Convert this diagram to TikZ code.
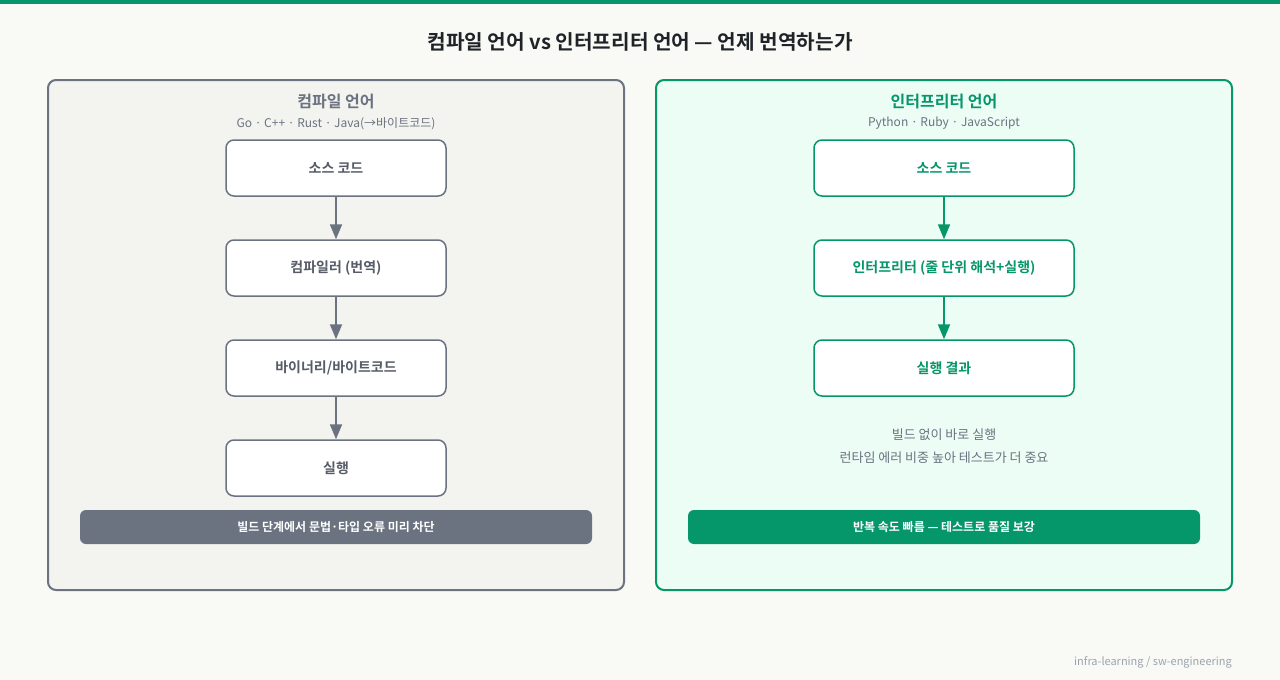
\documentclass[tikz,border=0pt]{standalone}
\usepackage{fontspec}
\setmainfont{Noto Sans CJK KR}[BoldFont={* Bold}]
\usetikzlibrary{arrows.meta}
\definecolor{bg}{HTML}{F9FAF6}
\definecolor{grn}{HTML}{059669}
\definecolor{gry}{HTML}{6B7280}
\definecolor{lpanel}{HTML}{F3F4EF}
\definecolor{rpanel}{HTML}{ECFDF5}
\definecolor{ttl}{HTML}{1F2328}
\definecolor{foot}{HTML}{9CA3AF}
\tikzset{
  panel/.style={draw, line width=2pt, rounded corners=8pt},
  stepbox/.style={draw, fill=white, line width=1.5pt, rounded corners=8pt, minimum width=220pt, minimum height=56pt, font=\fontsize{14}{16}\selectfont\bfseries},
  bar/.style={rounded corners=6pt, minimum width=512pt, minimum height=34pt, text=white, font=\fontsize{12}{14}\selectfont\bfseries},
  arr/.style={line width=2pt, -{Triangle[length=15pt,width=12pt]}},
}
\begin{document}
\begin{tikzpicture}[x=1pt,y=-1pt]
\useasboundingbox (0,0) rectangle (1280,680);
\fill[bg] (0,0) rectangle (1280,680);
\fill[grn] (0,0) rectangle (1280,4);
\node[text=ttl, font=\fontsize{20.2}{24}\selectfont\bfseries] (title) at (640,42) {컴파일 언어 vs 인터프리터 언어 — 언제 번역하는가};

% left panel
\node[panel, draw=gry, fill=lpanel, minimum width=576pt, minimum height=510pt, inner sep=0pt] (lp) at (336,335) {};
\node[text=gry, font=\fontsize{16}{18}\selectfont\bfseries] (lt) at (336,102) {컴파일 언어};
\node[text=gry, font=\fontsize{12}{14}\selectfont] (ls) at (336,123.5) {Go · C++ · Rust · Java(→바이트코드)};
\node[stepbox, draw=gry, text=gry!80!black] (l1) at (336,168) {소스 코드};
\node[stepbox, draw=gry, text=gry!80!black] (l2) at (336,268) {컴파일러 (번역)};
\node[stepbox, draw=gry, text=gry!80!black] (l3) at (336,368) {바이너리/바이트코드};
\node[stepbox, draw=gry, text=gry!80!black] (l4) at (336,468) {실행};
\draw[arr, gry] (l1) -- (l2);
\draw[arr, gry] (l2) -- (l3);
\draw[arr, gry] (l3) -- (l4);
\node[bar, fill=gry] (lb) at (336,527) {빌드 단계에서 문법·타입 오류 미리 차단};

% right panel
\node[panel, draw=grn, fill=rpanel, minimum width=576pt, minimum height=510pt, inner sep=0pt] (rp) at (944,335) {};
\node[text=grn, font=\fontsize{16}{18}\selectfont\bfseries] (rt) at (944,102) {인터프리터 언어};
\node[text=gry, font=\fontsize{12}{14}\selectfont] (rs) at (944,123.5) {Python · Ruby · JavaScript};
\node[stepbox, draw=grn, text=grn, minimum width=260pt] (r1) at (944,168) {소스 코드};
\node[stepbox, draw=grn, text=grn, minimum width=260pt] (r2) at (944,268) {인터프리터 (줄 단위 해석+실행)};
\node[stepbox, draw=grn, text=grn, minimum width=260pt] (r3) at (944,368) {실행 결과};
\draw[arr, grn] (r1) -- (r2);
\draw[arr, grn] (r2) -- (r3);
\node[text=gry, font=\fontsize{13}{15}\selectfont] (rn1) at (944,434.5) {빌드 없이 바로 실행};
\node[text=gry, font=\fontsize{13}{15}\selectfont] (rn2) at (944,457.5) {런타임 에러 비중 높아 테스트가 더 중요};
\node[bar, fill=grn] (rb) at (944,527) {반복 속도 빠름 — 테스트로 품질 보강};

\node[text=foot, anchor=east, inner sep=0pt, font=\fontsize{11}{13}\selectfont] (ft) at (1232,662) {infra-learning / sw-engineering};
\end{tikzpicture}
\end{document}
